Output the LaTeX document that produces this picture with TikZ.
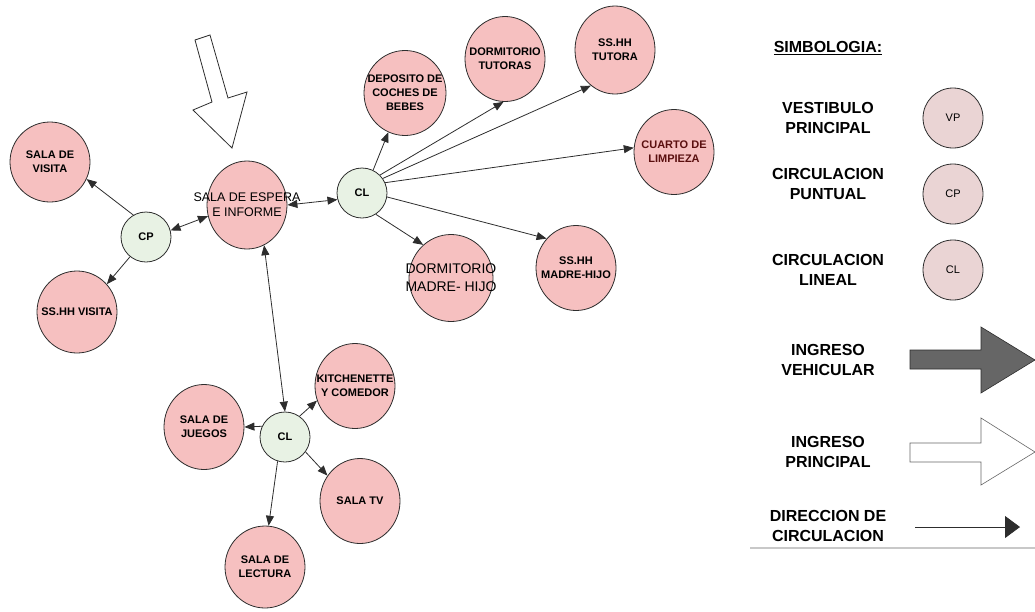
\documentclass[tikz,border=0pt]{standalone}
\usepackage{fontspec}
\setmainfont{Liberation Sans}
\usetikzlibrary{arrows.meta, shapes.geometric}
\definecolor{roomPink}{RGB}{246,192,192}
\definecolor{hubGreen}{RGB}{232,242,228}
\definecolor{legMauve}{RGB}{234,212,212}
\definecolor{edgeGray}{RGB}{45,45,45}
\definecolor{cuartoRed}{RGB}{90,15,15}
\definecolor{vehGray}{RGB}{102,102,102}
\definecolor{ruleGray}{RGB}{200,200,200}

\begin{document}
\begin{tikzpicture}[
    x=1pt, y=-1pt,
    room/.style={ellipse, draw=edgeGray, line width=0.8pt, fill=roomPink,
                 minimum width=80pt, minimum height=85pt, inner sep=0pt},
    rtxt/.style={label={[align=center, font=\fontsize{11}{14}\selectfont\bfseries]center:#1}},
    hub/.style={circle, draw=edgeGray, line width=0.8pt, fill=hubGreen,
                minimum size=50pt, inner sep=0pt,
                font=\fontsize{11}{13}\selectfont\bfseries},
    legcirc/.style={circle, draw=edgeGray, line width=0.8pt, fill=legMauve,
                    minimum size=60pt, inner sep=0pt,
                    font=\fontsize{11}{13}\selectfont},
    legtext/.style={align=center, font=\fontsize{16}{20}\selectfont\bfseries},
    arr/.style={-{Triangle[length=10pt,width=8pt]}, line width=0.8pt, draw=edgeGray},
    darr/.style={{Triangle[length=10pt,width=8pt]}-{Triangle[length=10pt,width=8pt]},
                 line width=0.8pt, draw=edgeGray}
]
\useasboundingbox (0,0) rectangle (1035,611);

% Entrance block
\node[room, minimum height=88pt,
      label={[align=center, font=\fontsize{12.5}{15}\selectfont]center:SALA DE ESPERA\\E INFORME}]
      (espera) at (247,205) {};
\node[hub] (cp) at (146,237) {CP};
\node[room, minimum height=80pt, rtxt={SALA DE\\VISITA}] (visita) at (50,162) {};
\node[room, minimum height=82pt, rtxt={SS.HH VISITA}] (ssvisita) at (77,312) {};

% Bedroom wing
\node[hub] (cla) at (362,193) {CL};
\node[room, minimum width=82pt, rtxt={DEPOSITO DE\\COCHES DE\\BEBES}] (deposito) at (405,93) {};
\node[room, rtxt={DORMITORIO\\TUTORAS}] (tutoras) at (505,59) {};
\node[room, minimum height=88pt, rtxt={SS.HH\\TUTORA}] (sstutora) at (615,50) {};
\node[room, label={[align=center, text=cuartoRed, font=\fontsize{11}{14}\selectfont\bfseries]center:CUARTO DE\\LIMPIEZA}]
      (cuarto) at (674,152) {};
\node[room, minimum width=84pt, minimum height=87pt,
      label={[align=center, font=\fontsize{14}{18}\selectfont]center:DORMITORIO\\MADRE- HIJO}]
      (dormmh) at (451,278) {};
\node[room, rtxt={SS.HH\\MADRE-HIJO}] (ssmh) at (576,268) {};

% Common wing
\node[hub] (clb) at (285,437) {CL};
\node[room, rtxt={KITCHENETTE\\Y COMEDOR}] (kitchen) at (355,386) {};
\node[room, rtxt={SALA DE\\JUEGOS}] (juegos) at (204,427) {};
\node[room, rtxt={SALA TV}] (salatv) at (360,501) {};
\node[room, minimum height=82pt, rtxt={SALA DE\\LECTURA}] (lectura) at (265,567) {};

% Main entrance arrow
\draw[draw=edgeGray, line width=0.8pt, fill=white]
    (195,40) -- (210,35) -- (228,98) -- (247,92) -- (232,148)
    -- (193,110) -- (212,102) -- cycle;

% Circulation
\draw[darr] (cp.15) -- (espera.196);
\draw[arr] (cp.120) -- (visita.-25);
\draw[arr] (cp.231) -- (ssvisita.43);
\draw[darr] (espera.0) -- (cla.195);
\draw[darr] (espera.-67) -- (clb.90);

\draw[arr] (cla.64) -- (deposito.247);
\draw[arr] (cla.45) -- (tutoras.268);
\draw[arr] (cla.35) -- (sstutora.236);
\draw[arr] (cla.24) -- (cuarto.174);
\draw[arr] (cla.-9) -- (ssmh.135);
\draw[arr] (cla.-57) -- (dormmh.130);

\draw[arr] (clb.55) -- (kitchen.201);
\draw[arr] (clb.155) -- (juegos.0);
\draw[arr] (clb.-36) -- (salatv.142);
\draw[arr] (clb.-107) -- (lectura.85);

% Legend
\node[legtext] (simb) at (828,48) {\underline{SIMBOLOGIA:}};
\node[legtext] (tvp) at (828,118) {VESTIBULO\\PRINCIPAL};
\node[legcirc] (lvp) at (953,118) {VP};
\node[legtext] (tcp) at (828,184) {CIRCULACION\\PUNTUAL};
\node[legcirc] (lcp) at (953,194) {CP};
\node[legtext] (tcl) at (828,270) {CIRCULACION\\LINEAL};
\node[legcirc] (lcl) at (953,270) {CL};
\node[legtext] (tveh) at (828,360) {INGRESO\\VEHICULAR};
\draw[draw=edgeGray, line width=0.6pt, fill=vehGray]
    (910,350) -- (981,350) -- (981,327) -- (1035,360) -- (981,393)
    -- (981,369) -- (910,369) -- cycle;
\node[legtext] (tppl) at (828,452) {INGRESO\\PRINCIPAL};
\draw[draw=vehGray, line width=0.6pt, fill=white]
    (910,443) -- (981,443) -- (981,418) -- (1035,452) -- (981,485)
    -- (981,462) -- (910,462) -- cycle;
\node[legtext] (tdir) at (828,526) {DIRECCION DE\\CIRCULACION};
\coordinate (dirA) at (915,527);
\coordinate (dirB) at (1020,527);
\draw[-{Triangle[length=15pt,width=22pt]}, line width=0.8pt, draw=edgeGray] (dirA) -- (dirB);
\draw[ruleGray, line width=1.2pt] (750,548) -- (1035,548);

\end{tikzpicture}
\end{document}
